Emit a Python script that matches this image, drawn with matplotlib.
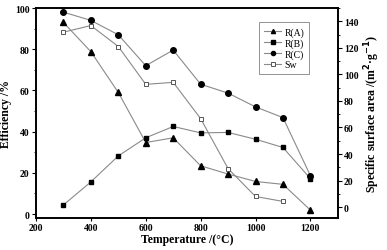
import matplotlib
matplotlib.use('Agg')
import matplotlib.pyplot as plt
from matplotlib.ticker import MultipleLocator

temps = [300, 400, 500, 600, 700, 800, 900, 1000, 1100, 1200]
r_a = [93, 78.8, 59, 34.7, 37, 23.4, 19.4, 15.8, 14.4, 1.9]
r_b = [4.4, 15.6, 28.2, 37, 42.5, 39.4, 39.6, 36.3, 32.3, 17.2]
r_c = [98, 94, 87, 72, 79.6, 63, 58.7, 52, 46.8, 18.6]
sw_temps = [300, 400, 500, 600, 700, 800, 900, 1000, 1100]
sw = [131.8, 136.8, 121, 92.5, 94, 66.7, 29, 8, 4.3]

plt.rcParams['font.family'] = ['Liberation Serif', 'DejaVu Serif']
line_c = '#8a8a8a'

fig = plt.figure(figsize=(3.87, 2.51), dpi=100)
ax = fig.add_axes([0.093, 0.127, 0.78, 0.837])
ax2 = ax.twinx()

l1, = ax.plot(temps, r_a, color=line_c, lw=0.8, marker='^', ms=4, mfc='black', mec='black', label='R(A)')
l2, = ax.plot(temps, r_b, color=line_c, lw=0.8, marker='s', ms=3.5, mfc='black', mec='black', label='R(B)')
l3, = ax.plot(temps, r_c, color=line_c, lw=0.8, marker='o', ms=4, mfc='black', mec='black', label='R(C)')
l4, = ax2.plot(sw_temps, sw, color=line_c, lw=0.8, marker='s', ms=3.5, mfc='white', mec='#555555', mew=0.7, label='Sw')

ax.set_xlim(200, 1300)
ax.set_ylim(-2, 100)
ax2.set_ylim(-8.3, 150)
ax.xaxis.set_major_locator(MultipleLocator(200))
ax.xaxis.set_minor_locator(MultipleLocator(100))
ax.yaxis.set_major_locator(MultipleLocator(20))
ax.yaxis.set_minor_locator(MultipleLocator(10))
ax2.yaxis.set_major_locator(MultipleLocator(20))
ax2.yaxis.set_minor_locator(MultipleLocator(10))

for a in (ax, ax2):
    a.tick_params(which='major', direction='out', length=3, width=0.8, labelsize=7, pad=1.5)
    a.tick_params(which='minor', direction='out', length=1.5, width=0.6)
    for lab in a.get_xticklabels() + a.get_yticklabels():
        lab.set_fontweight('bold')
    for s in a.spines.values():
        s.set_linewidth(1.2)
ax.tick_params(axis='x', which='minor', length=0)
ax.tick_params(axis='x', which='major', length=2)

ax.set_xlabel('Temperature /(°C)', fontsize=8.5, fontweight='bold', labelpad=1)
ax.set_ylabel('Efficiency /%', fontsize=8.5, fontweight='bold', labelpad=2)
ax2.set_ylabel('Specific surface area /(m$^\\mathbf{2}$·g$^\\mathbf{-1}$)', fontsize=8.5, fontweight='bold', labelpad=3)

leg = ax.legend(handles=[l1, l2, l3, l4], loc='upper right', bbox_to_anchor=(0.92, 0.955),
                fontsize=7, frameon=True, fancybox=False, edgecolor='#777777', markerscale=0.75,
                handlelength=1.8, handletextpad=0.3, labelspacing=0.15, borderpad=0.5)
leg.get_frame().set_linewidth(0.7)

fig.savefig('out.png', dpi=100, facecolor='white')
